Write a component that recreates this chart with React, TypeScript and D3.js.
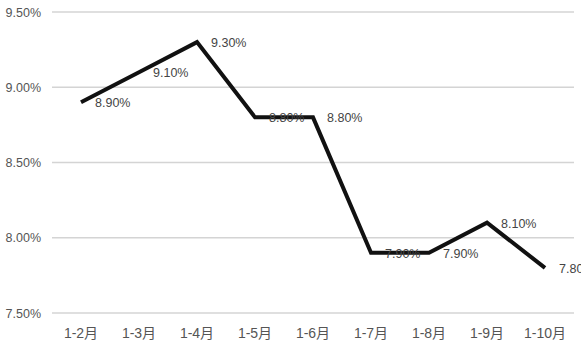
import React from "react";
import * as d3 from "d3";

const categories = ["1-2月", "1-3月", "1-4月", "1-5月", "1-6月", "1-7月", "1-8月", "1-9月", "1-10月"];
const values = [8.9, 9.1, 9.3, 8.8, 8.8, 7.9, 7.9, 8.1, 7.8];
const yTicks = [7.5, 8.0, 8.5, 9.0, 9.5];

const W = 581;
const H = 352;
const left = 52;
const right = 574;
const top = 12;
const bottom = 313;

export default function App() {
  const x = d3.scaleBand<string>().domain(categories).range([left, right]);
  const y = d3.scaleLinear().domain([7.5, 9.5]).range([bottom, top]);
  const cx = (c: string) => (x(c) as number) + x.bandwidth() / 2;
  const line = d3
    .line<number>()
    .x((_, i) => cx(categories[i]))
    .y((d) => y(d));
  const font = "'Liberation Sans', 'Noto Sans CJK SC', sans-serif";
  return (
    <svg
      width={W}
      height={H}
      style={{ position: "absolute", left: 0, top: 0, background: "#fff" }}
      fontFamily={font}
    >
      <rect width={W} height={H} fill="#fff" />
      {yTicks.map((t) => (
        <g key={t}>
          <line x1={left} x2={right} y1={y(t)} y2={y(t)} stroke="#d4d4d4" strokeWidth={1.5} />
          <text x={41} y={y(t) + 4.5} textAnchor="end" fontSize={12.5} fill="#555">
            {t.toFixed(2)}%
          </text>
        </g>
      ))}
      {categories.map((c) => (
        <text key={c} x={cx(c)} y={338} textAnchor="middle" fontSize={14} fill="#555">
          {c}
        </text>
      ))}
      <path d={line(values) as string} fill="none" stroke="#111" strokeWidth={4} strokeLinejoin="miter" />
      {values.map((v, i) => (
        <text key={i} x={cx(categories[i]) + 14} y={y(v) + 5} fontSize={12.5} fill="#444">
          {v.toFixed(2)}%
        </text>
      ))}
    </svg>
  );
}
